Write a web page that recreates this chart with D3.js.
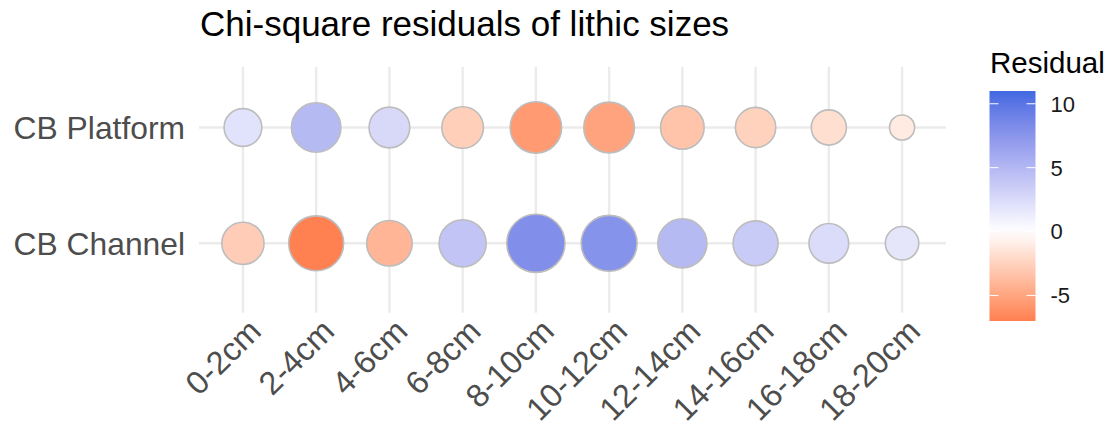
<!DOCTYPE html>
<html>
<head>
<meta charset="utf-8">
<script src="https://cdn.jsdelivr.net/npm/d3@7"></script>
<style>
  body { margin: 0; background: #fff; }
  svg text { font-family: "Liberation Sans", Arial, Helvetica, sans-serif; }
</style>
</head>
<body>
<div id="vis"></div>
<script>
// size classes along x, sites along y
const sizeClasses = ["0-2cm", "2-4cm", "4-6cm", "6-8cm", "8-10cm",
  "10-12cm", "12-14cm", "14-16cm", "16-18cm", "18-20cm"];
const sites = ["CB Platform", "CB Channel"];

// chi-square residuals
const residPlatform = [2.0, 4.8, 2.6, -2.7, -5.6, -5.1, -3.3, -2.5, -1.8, -1.1];
const residChannel  = [-2.8, -6.9, -4.1, 4.1, 8.0, 7.7, 4.8, 3.6, 2.4, 1.7];

// lithic counts
const countPlatform = [150, 257, 174, 182, 278, 270, 200, 171, 130, 66];
const countChannel  = [187, 317, 218, 233, 356, 328, 253, 212, 166, 118];

const legendLimits = [-7, 11];
const legendTicks = [-5, 0, 5, 10];

const width = 1119;
const height = 427;
const panel = {left: 199, right: 946, top: 66.7, bottom: 312.7};

const data = [];
sites.forEach((site, j) => {
  const res = j == 0 ? residPlatform : residChannel;
  const cnt = j == 0 ? countPlatform : countChannel;
  sizeClasses.forEach((s, i) => {
    data.push({site: site, size: s, resid: res[i], n: cnt[i]});
  });
});

const svg = d3.select("#vis")
  .append("svg")
  .attr("width", width)
  .attr("height", height);

const x = d3.scalePoint()
  .domain(sizeClasses)
  .range([panel.left, panel.right])
  .padding(0.6);

const y = d3.scalePoint()
  .domain(sites)
  .range([127.5, 243.3]);

const r = d3.scaleSqrt()
  .domain([0, d3.max(data, d => d.n)])
  .range([0, 29.1]);

const color = d3.scaleLinear()
  .domain([legendLimits[0], 0, legendLimits[1]])
  .range(["coral", "white", "royalblue"])
  .interpolate(d3.interpolateLab);

// grid
const grid = svg.append("g")
  .attr("stroke", "#ebebeb")
  .attr("stroke-width", 2.4);

grid.selectAll("line.v")
  .data(sizeClasses)
  .join("line")
    .attr("class", "v")
    .attr("x1", d => x(d))
    .attr("x2", d => x(d))
    .attr("y1", panel.top)
    .attr("y2", panel.bottom);

grid.selectAll("line.h")
  .data(sites)
  .join("line")
    .attr("class", "h")
    .attr("x1", panel.left)
    .attr("x2", panel.right)
    .attr("y1", d => y(d))
    .attr("y2", d => y(d));

// points
svg.append("g")
  .selectAll("circle")
  .data(data)
  .join("circle")
    .attr("cx", d => x(d.size))
    .attr("cy", d => y(d.site))
    .attr("r", d => r(d.n))
    .attr("fill", d => color(d.resid))
    .attr("stroke", "#bdbdbd")
    .attr("stroke-width", 1.6);

// y axis labels
svg.append("g")
  .selectAll("text")
  .data(sites)
  .join("text")
    .attr("x", 185)
    .attr("y", d => y(d))
    .attr("dy", "0.36em")
    .attr("text-anchor", "end")
    .attr("fill", "#4d4d4d")
    .attr("font-size", 31.8)
    .text(d => d);

// x axis labels, rotated
svg.append("g")
  .selectAll("text")
  .data(sizeClasses)
  .join("text")
    .attr("transform", d => `translate(${x(d) + 20},${333}) rotate(-45)`)
    .attr("text-anchor", "end")
    .attr("fill", "#4d4d4d")
    .attr("font-size", 32.5)
    .text(d => d);

// title
svg.append("text")
  .attr("x", 200)
  .attr("y", 36)
  .attr("font-size", 35)
  .attr("fill", "#000")
  .text("Chi-square residuals of lithic sizes");

// legend
const bar = {x: 989.5, w: 46, top: 91, bottom: 321};
const ly = d3.scaleLinear()
  .domain(legendLimits)
  .range([bar.bottom, bar.top]);

const grad = svg.append("defs")
  .append("linearGradient")
  .attr("id", "resgrad")
  .attr("x1", 0).attr("y1", 1)
  .attr("x2", 0).attr("y2", 0);

d3.range(0, 1.0001, 0.05).forEach(t => {
  const v = legendLimits[0] + t * (legendLimits[1] - legendLimits[0]);
  grad.append("stop")
    .attr("offset", t)
    .attr("stop-color", color(v));
});

svg.append("text")
  .attr("x", 990)
  .attr("y", 73)
  .attr("font-size", 29.5)
  .attr("fill", "#000")
  .text("Residual");

svg.append("rect")
  .attr("x", bar.x)
  .attr("y", bar.top)
  .attr("width", bar.w)
  .attr("height", bar.bottom - bar.top)
  .attr("fill", "url(#resgrad)");

const lt = svg.append("g");
lt.selectAll("line.l")
  .data(legendTicks)
  .join("line")
    .attr("class", "l")
    .attr("x1", bar.x).attr("x2", bar.x + 9)
    .attr("y1", d => ly(d)).attr("y2", d => ly(d))
    .attr("stroke", "#fff").attr("stroke-width", 1);
lt.selectAll("line.r")
  .data(legendTicks)
  .join("line")
    .attr("class", "r")
    .attr("x1", bar.x + bar.w - 9).attr("x2", bar.x + bar.w)
    .attr("y1", d => ly(d)).attr("y2", d => ly(d))
    .attr("stroke", "#fff").attr("stroke-width", 1);
lt.selectAll("text")
  .data(legendTicks)
  .join("text")
    .attr("x", 1050.5)
    .attr("y", d => ly(d))
    .attr("dy", "0.36em")
    .attr("font-size", 22)
    .attr("fill", "#1a1a1a")
    .text(d => d);
</script>
</body>
</html>
